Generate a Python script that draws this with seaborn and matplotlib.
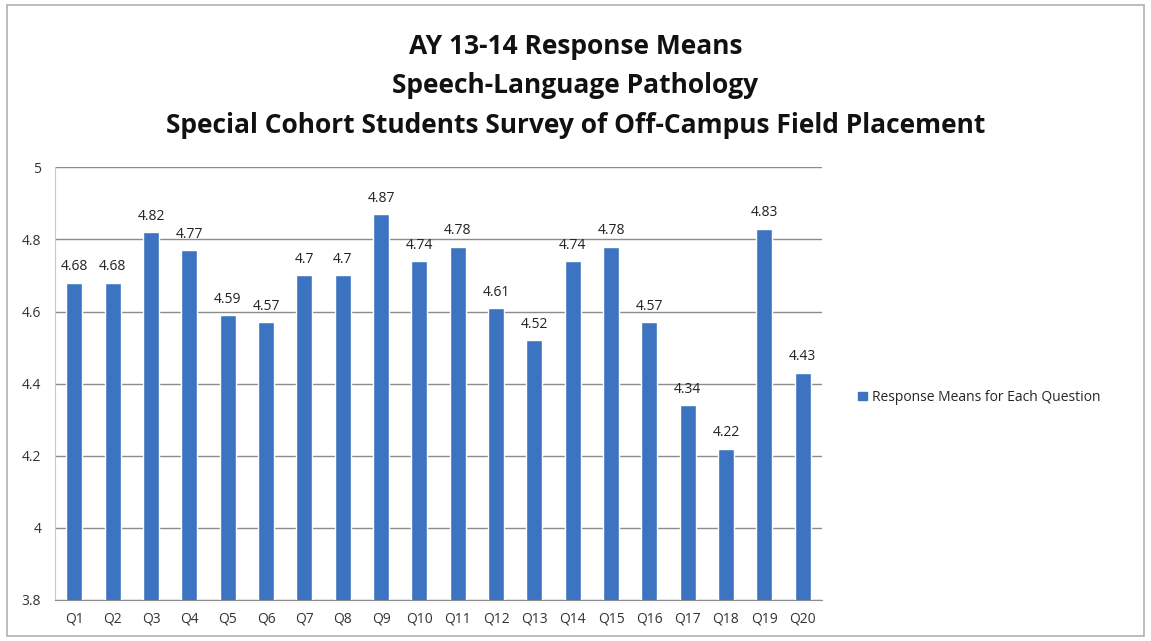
import matplotlib
matplotlib.use("Agg")
import matplotlib.pyplot as plt
import pandas as pd
import seaborn as sns
from matplotlib.patches import Rectangle

# --- DATA ---
questions = [f"Q{i}" for i in range(1, 21)]
means = [4.68, 4.68, 4.82, 4.77, 4.59, 4.57, 4.7, 4.7, 4.87, 4.74,
         4.78, 4.61, 4.52, 4.74, 4.78, 4.57, 4.34, 4.22, 4.83, 4.43]
value_labels = ["4.68", "4.68", "4.82", "4.77", "4.59", "4.57", "4.7", "4.7", "4.87", "4.74",
                "4.78", "4.61", "4.52", "4.74", "4.78", "4.57", "4.34", "4.22", "4.83", "4.43"]
y_ticks = [3.8, 4, 4.2, 4.4, 4.6, 4.8, 5]
y_tick_labels = ["3.8", "4", "4.2", "4.4", "4.6", "4.8", "5"]
series_name = "Response Means for Each Question"
title_lines = ["AY 13-14 Response Means",
               "Speech-Language Pathology",
               "Special Cohort Students Survey of Off-Campus Field Placement"]

BAR_COLOR = "#3D74C2"
GRID_COLOR = "#8c8c8c"

df = pd.DataFrame({"Question": questions, "Mean": means, "Series": series_name})

sns.set_style("white")
plt.rcParams['font.family'] = ['Open Sans', 'DejaVu Sans']

fig = plt.figure(figsize=(11.51, 6.41), dpi=100)
ax = fig.add_axes([0.048, 0.064, 0.666, 0.675])

sns.barplot(data=df, x="Question", y="Mean", hue="Series", palette=[BAR_COLOR],
            saturation=1, width=0.42, ax=ax, legend=False, zorder=3)

ax.set_ylim(3.8, 5)
ax.set_yticks(y_ticks)
ax.set_yticklabels(y_tick_labels, fontsize=10, color="#333333")
ax.tick_params(axis='x', labelsize=10, colors="#333333", length=0, pad=8)
ax.tick_params(axis='y', length=0, pad=10)
ax.yaxis.grid(True, color=GRID_COLOR, linewidth=1.0, zorder=0)
ax.set_axisbelow(True)
ax.set_xlabel("")
ax.set_ylabel("")
for side in ["top", "right"]:
    ax.spines[side].set_visible(False)
ax.spines["left"].set_color("#c8c8c8")
ax.spines["bottom"].set_color(GRID_COLOR)

for patch, lab in zip(ax.patches, value_labels):
    ax.annotate(lab, (patch.get_x() + patch.get_width() / 2, patch.get_height()),
                xytext=(0, 6), textcoords="offset points",
                ha="center", va="bottom", fontsize=10, color="#222222")

for i, line in enumerate(title_lines):
    fig.text(0.5, 0.928 - i * 0.062, line, ha="center", va="center",
             fontsize=19, fontweight="bold", color="#111111")

handle = Rectangle((0, 0), 1, 1, color=BAR_COLOR)
fig.legend([handle], [series_name], loc="center left",
           bbox_to_anchor=(0.735, 0.38), frameon=False, fontsize=10,
           handlelength=0.6, handleheight=0.6, handletextpad=0.4)

fig.add_artist(Rectangle((0.006, 0.008), 0.988, 0.984, transform=fig.transFigure,
                         fill=False, edgecolor="#b0b0b0", linewidth=1.2))

fig.savefig("out.png", dpi=100)
